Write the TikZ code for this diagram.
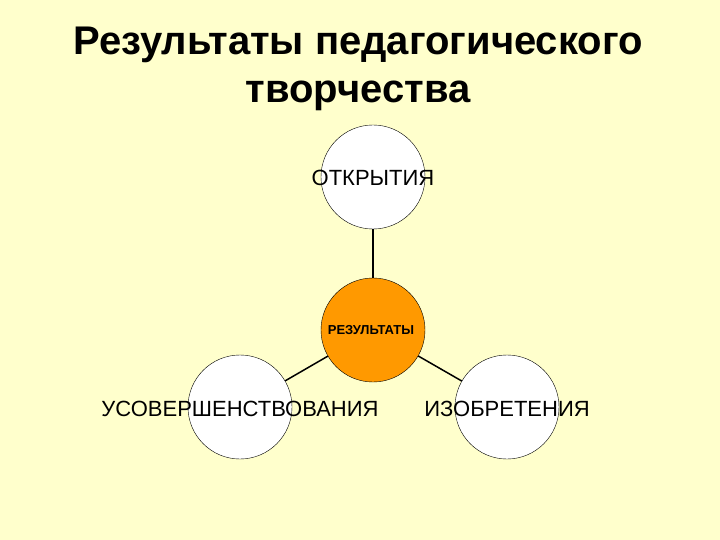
\documentclass[tikz,border=0pt]{standalone}
\usepackage{fontspec}
\setmainfont{Liberation Sans}
\definecolor{bg}{HTML}{FFFFCC}
\definecolor{org}{HTML}{FF9900}
\begin{document}
\begin{tikzpicture}[x=1pt,y=-1pt,
  circ/.style={circle,draw=black,fill=white,minimum size=104pt,inner sep=0pt},
  lbl/.style={font=\fontsize{22}{26}\selectfont},
  conn/.style={draw=black,line width=1.5pt}]
\fill[bg] (0,0) rectangle (720,540);
\useasboundingbox (0,0) rectangle (720,540);
\node[font=\bfseries\fontsize{40}{48}\selectfont,align=center] (title) at (358,69) {Результаты педагогического\\творчества};
\node[circ] (top) at (373,177) {};
\node[circ,fill=org] (mid) at (373,330) {};
\node[circ] (left) at (240,407) {};
\node[circ] (right) at (507,407) {};
\node[lbl] (tl) at (373,178) {ОТКРЫТИЯ};
\node[font=\bfseries\fontsize{13}{15}\selectfont] (ml) at (371,330) {РЕЗУЛЬТАТЫ};
\node[lbl] (ll) at (240,409) {УСОВЕРШЕНСТВОВАНИЯ};
\node[lbl] (rl) at (507,409) {ИЗОБРЕТЕНИЯ};
\draw[conn] (top) -- (mid);
\draw[conn] (mid) -- (left);
\draw[conn] (mid) -- (right);
\end{tikzpicture}
\end{document}
